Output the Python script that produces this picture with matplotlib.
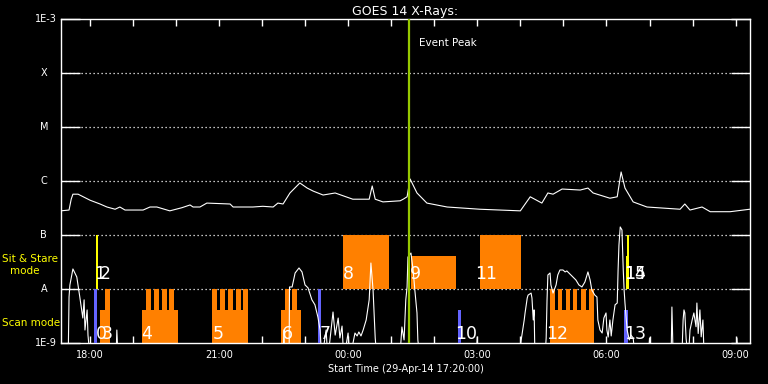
import matplotlib
matplotlib.use('Agg')
import matplotlib.pyplot as plt
from matplotlib.ticker import FixedLocator

# GOES 14 long channel (1-8 A), hours since 29-Apr-14 00:00, W/m^2
t_long = [17.33, 17.52, 17.57, 17.61, 17.73, 18.01, 18.24, 18.40, 18.59, 18.70,
          18.82, 19.24, 19.40, 19.56, 19.86, 20.14, 20.33, 20.40, 20.56, 20.72,
          21.26, 21.33, 21.79, 22.02, 22.26, 22.37, 22.49, 22.65, 22.88, 23.05,
          23.19, 23.42, 23.70, 24.11, 24.49, 24.56, 24.63, 24.81, 25.21, 25.28,
          25.37, 25.44, 25.60, 25.83, 26.30, 27.06, 28.00, 28.23, 28.50, 28.64,
          28.76, 28.97, 29.39, 29.57, 29.69, 30.08, 30.25, 30.34, 30.43, 30.62,
          30.94, 31.71, 31.82, 31.94, 32.22, 32.41, 32.87, 33.33]
f_long = [2.8e-7, 2.9e-7, 4.6e-7, 5.7e-7, 5.7e-7, 4.4e-7, 3.75e-7, 3.3e-7, 3.0e-7, 3.3e-7,
          2.9e-7, 2.9e-7, 3.3e-7, 3.3e-7, 2.8e-7, 3.2e-7, 3.6e-7, 3.3e-7, 3.3e-7, 3.9e-7,
          3.75e-7, 3.3e-7, 3.3e-7, 3.4e-7, 3.3e-7, 3.9e-7, 3.75e-7, 6.0e-7, 9.2e-7, 7.4e-7,
          6.5e-7, 5.5e-7, 6.0e-7, 4.6e-7, 4.6e-7, 8.1e-7, 4.6e-7, 4.1e-7, 4.3e-7, 4.6e-7,
          5.1e-7, 1.09e-6, 6.0e-7, 3.9e-7, 3.3e-7, 3.0e-7, 2.8e-7, 5.1e-7, 3.9e-7, 6.0e-7,
          5.7e-7, 7.1e-7, 6.8e-7, 7.4e-7, 6.0e-7, 4.8e-7, 5.1e-7, 1.47e-6, 7.4e-7, 4.1e-7,
          3.3e-7, 3.0e-7, 3.75e-7, 2.9e-7, 3.3e-7, 2.7e-7, 2.7e-7, 3.0e-7]

# short channel (0.5-4 A)
t_short = [17.33, 17.50, 17.52, 17.54, 17.61, 17.70, 17.77, 17.84, 17.87, 17.89,
           17.94, 17.96, 18.01, 18.61, 18.63, 18.66, 22.49, 22.51, 22.53, 22.63,
           22.64, 22.70, 22.77, 22.86, 22.93, 23.00, 23.07, 23.16, 23.23, 23.30,
           23.35, 23.39, 23.49, 23.53, 23.65, 23.70, 23.77, 23.81, 23.86, 23.90,
           24.00, 24.04, 24.16, 24.21, 24.25, 24.30, 24.35, 24.42, 24.49, 24.53,
           24.58, 24.63, 24.67, 25.20, 25.25, 25.30, 25.34, 25.37, 25.39, 25.46,
           25.51, 25.55, 25.60, 25.62, 25.67, 26.97, 27.00, 27.02, 27.97, 28.02,
           28.09, 28.11, 28.16, 28.18, 28.25, 28.27, 28.30, 28.32, 28.34, 28.57,
           28.60, 28.62, 28.64, 28.69, 28.71, 28.76, 28.83, 28.87, 28.92, 28.99,
           29.04, 29.08, 29.15, 29.22, 29.29, 29.36, 29.43, 29.50, 29.57, 29.62,
           29.66, 29.73, 29.78, 29.80, 29.85, 29.90, 29.94, 29.99, 30.01, 30.04,
           30.08, 30.11, 30.15, 30.20, 30.25, 30.27, 30.29, 30.32, 30.36, 30.39,
           30.41, 30.43, 30.48, 30.53, 30.57, 30.62, 30.67, 30.97, 31.00, 31.03,
           31.50, 31.52, 31.55, 31.75, 31.78, 31.80, 31.82, 31.85, 31.90, 31.94,
           31.99, 32.03, 32.08, 32.10, 32.13, 32.17, 32.20, 32.24, 32.27, 33.00,
           33.03, 33.06, 33.33]
f_short = [5e-10, 5e-10, 7.1e-9, 1.19e-8, 2.35e-8, 1.67e-8, 7.1e-9, 2.9e-9, 6.3e-9, 1.74e-9,
           4.1e-9, 1.4e-9, 5e-10, 5e-10, 1.74e-9, 5e-10, 5e-10, 1.74e-9, 5e-10, 5e-10,
           1.09e-8, 1.09e-8, 1.98e-8, 2.45e-8, 2.07e-8, 1.19e-8, 1.05e-8, 6.3e-9, 5.1e-9, 3.0e-9,
           1.74e-9, 5e-10, 1.74e-9, 5e-10, 3.75e-9, 1.4e-9, 2.9e-9, 1.24e-9, 2.06e-9, 5e-10,
           1.53e-9, 5e-10, 1.53e-9, 1.35e-9, 1.6e-9, 1.35e-9, 1.74e-9, 2.67e-9, 6.3e-9, 3.03e-8,
           9.6e-9, 1.24e-9, 5e-10, 5e-10, 1.98e-9, 1.14e-9, 6.3e-9, 1.09e-8, 3.9e-8, 4.64e-8,
           2.25e-8, 9.6e-9, 3.6e-9, 1.14e-9, 5e-10, 5e-10, 1.29e-9, 5e-10, 5e-10, 1.14e-9,
           2.67e-9, 3.6e-9, 6.8e-9, 7.7e-9, 8.4e-9, 6.8e-9, 2.67e-9, 4.1e-9, 5e-10, 5e-10,
           1.24e-9, 6.3e-9, 1.82e-8, 1.98e-8, 1.19e-8, 8.4e-9, 1.19e-8, 1.82e-8, 2.25e-8, 2.25e-8,
           2.07e-8, 2.16e-8, 1.9e-8, 1.67e-8, 1.47e-8, 1.19e-8, 1.09e-8, 1.35e-8, 2.07e-8, 1.47e-8,
           9.6e-9, 7.7e-9, 7.1e-9, 2.67e-9, 1.74e-9, 1.53e-9, 2.9e-9, 3.6e-9, 1.74e-9, 1.29e-9,
           2.67e-9, 1.35e-9, 2.67e-9, 5.1e-9, 5.5e-9, 2.25e-8, 6.5e-8, 1.41e-7, 1.24e-7, 2.25e-8,
           9.6e-9, 5.5e-9, 1.74e-9, 1.14e-9, 1.4e-9, 1.24e-9, 5e-10, 5e-10, 1.24e-9, 5e-10,
           5e-10, 4.64e-9, 5e-10, 5e-10, 2.67e-9, 4.1e-9, 3.6e-9, 1.2e-9, 5e-10, 1.74e-9,
           2.67e-9, 3.6e-9, 2.0e-9, 5.5e-9, 1.5e-9, 4.1e-9, 1.3e-9, 2.67e-9, 5e-10, 5e-10,
           1.24e-9, 5e-10, 5e-10]

# scan mode blocks (from 1E-9), lower level then full-height teeth
scan_x0 = [18.239, 19.214, 20.840, 22.442, 28.689]
scan_x1 = [18.471, 20.050, 21.676, 22.907, 29.711]
scan_top = 4.1e-9
tooth_x0 = [18.355, 19.307, 19.493, 19.679, 19.841, 20.840, 21.026, 21.211, 21.397,
            21.560, 22.535, 22.698, 28.689, 28.875, 29.061, 29.224, 29.410, 29.595]
tooth_x1 = [18.471, 19.423, 19.609, 19.795, 19.957, 20.956, 21.142, 21.327, 21.513,
            21.676, 22.628, 22.814, 28.806, 28.968, 29.154, 29.317, 29.526, 29.711]

# sit & stare blocks (from A level)
ss_x0 = [23.882, 25.461, 27.064]
ss_x1 = [24.950, 26.506, 28.016]
ss_top = [1e-7, 4.1e-8, 1e-7]

blue_x0 = [18.10, 23.30, 26.55, 30.41]
blue_x1 = [18.17, 23.37, 26.62, 30.50]
blue_top = [1e-8, 1e-8, 4.1e-9, 4.1e-9]

yel_x0 = [18.146, 30.478, 30.455]
yel_x1 = [18.192, 30.524, 30.524]
yel_top = [1e-7, 1e-7, 4.1e-8]

peak_t = 25.415

ev_lab = ['0', '1', '2', '3', '4', '5', '6', '7', '8', '9', '10', '11', '12', '13', '14', '15']
ev_t = [18.15, 18.10, 18.24, 18.27, 19.19, 20.86, 22.465, 23.35, 23.88, 25.43,
        26.48, 26.95, 28.60, 30.40, 30.42, 30.42]
ev_top = [0, 1, 1, 0, 0, 0, 0, 0, 1, 1, 0, 1, 0, 0, 1, 1]

ylev = [1e-3, 1e-4, 1e-5, 1e-6, 1e-7, 1e-8, 1e-9]
ynames = ['1E-3', 'X', 'M', 'C', 'B', 'A', '1E-9']
xt = [18, 21, 24, 27, 30, 33]
xt_lab = ['18:00', '21:00', '00:00', '03:00', '06:00', '09:00']

orange = '#ff8000'
blue = '#6464ff'
yellow = '#ffff00'
green = '#96c800'

fig = plt.figure(figsize=(7.68, 3.84), dpi=100, facecolor='black')
ax = fig.add_axes([61/768, 41/384, 689/768, 324/384], facecolor='black')
ax.set_yscale('log')
ax.set_ylim(1e-9, 1e-3)
ax.set_xlim(17 + 20/60., 33 + 20/60.)

for lev in ylev[1:-1]:
    ax.axhline(lev, color='white', lw=0.9, ls=(0, (1, 2.2)), zorder=1)

ax.bar(scan_x0, [scan_top - 1e-9]*len(scan_x0), width=[b - a for a, b in zip(scan_x0, scan_x1)],
       bottom=1e-9, align='edge', color=orange, lw=0, zorder=2)
ax.bar(tooth_x0, [1e-8 - 1e-9]*len(tooth_x0), width=[b - a for a, b in zip(tooth_x0, tooth_x1)],
       bottom=1e-9, align='edge', color=orange, lw=0, zorder=2)
ax.bar(ss_x0, [v - 1e-8 for v in ss_top], width=[b - a for a, b in zip(ss_x0, ss_x1)],
       bottom=1e-8, align='edge', color=orange, lw=0, zorder=2)
ax.bar(blue_x0, [v - 1e-9 for v in blue_top], width=[b - a for a, b in zip(blue_x0, blue_x1)],
       bottom=1e-9, align='edge', color=blue, lw=0, zorder=3)
ax.bar(yel_x0, [v - 1e-8 for v in yel_top], width=[b - a for a, b in zip(yel_x0, yel_x1)],
       bottom=1e-8, align='edge', color=yellow, lw=0, zorder=3)

ax.plot(t_long, f_long, color='white', lw=0.8, zorder=4)
ax.plot(t_short, f_short, color='white', lw=0.8, zorder=4)

ax.axvline(peak_t, color=green, lw=1.6, zorder=5)
ax.text(peak_t + 0.23, 3.6e-4, 'Event Peak', color='white', fontsize=7.5, va='center', ha='left')

for lab, t, top in zip(ev_lab, ev_t, ev_top):
    ax.text(t, 1.53e-8 if top else 1.19e-9, lab, color='white', fontsize=12.5,
            va='baseline', ha='left', zorder=6)

for s in ax.spines.values():
    s.set_color('white')
    s.set_linewidth(1)

ax.yaxis.set_major_locator(FixedLocator(ylev))
ax.yaxis.set_minor_locator(FixedLocator([]))
ax.set_yticklabels([])
ax.tick_params(axis='y', which='major', direction='in', length=14, width=1,
               color='white', left=True, right=True)
for lev, name in zip(ylev, ynames):
    if name.startswith('1E'):
        ax.text(-0.006, lev, name, color='white', fontsize=7, ha='right', va='center',
                transform=ax.get_yaxis_transform())
    else:
        ax.text(-0.025, lev, name, color='white', fontsize=7, ha='center', va='center',
                transform=ax.get_yaxis_transform())

ax.set_xticks(xt)
ax.set_xticklabels(xt_lab)
ax.set_xticks(range(18, 34), minor=True)
ax.tick_params(axis='x', which='both', direction='in', length=5, width=1, color='white',
               top=True, bottom=True, labelcolor='white', labelsize=7, pad=5)

ax.set_title('GOES 14 X-Rays:', color='white', fontsize=9, pad=3)
ax.set_xlabel('Start Time (29-Apr-14 17:20:00)', color='white', fontsize=7, labelpad=3)

fig.text(2/768, 1 - 259/384, 'Sit & Stare', color=yellow, fontsize=7.5, ha='left', va='center')
fig.text(25/768, 1 - 271/384, 'mode', color=yellow, fontsize=7.5, ha='center', va='center')
fig.text(2/768, 1 - 323.5/384, 'Scan mode', color=yellow, fontsize=7.5, ha='left', va='center')

fig.savefig('out.png', dpi=100, facecolor='black')
